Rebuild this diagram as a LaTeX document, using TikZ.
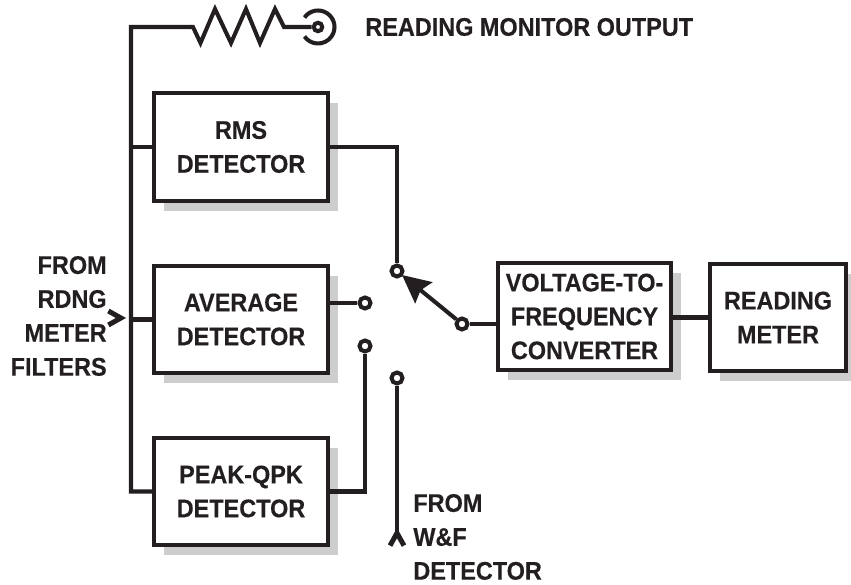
\documentclass[tikz,border=0pt]{standalone}
\usepackage{fontspec}
\setmainfont[FakeStretch=0.92,BoldFeatures={FakeBold=0.3}]{Liberation Sans}
\usetikzlibrary{arrows.meta,shadows}
\definecolor{inkblack}{HTML}{231F20}
\definecolor{shadowgray}{HTML}{CDCDCD}
\tikzset{
    every node/.style={text=inkblack, font=\fontsize{14.5}{19.3}\selectfont\bfseries},
    wire/.style={draw=inkblack, line width=2.3pt},
    box/.style={wire, fill=white, minimum height=2.15cm, minimum width=3.47cm,
                inner sep=0pt, align=center,
                drop shadow={shadow xshift=0.2cm, shadow yshift=-0.2cm,
                             fill=shadowgray, opacity=1}},
    contact/.style={circle, wire, fill=white, inner sep=0pt, minimum size=0.22cm},
    note/.style={align=left, inner sep=0pt},
    swing/.style={wire, -{Stealth[length=0.56cm, width=0.54cm, inset=0.08cm]}},
    entry/.style={wire, -{Straight Barb[length=0.25cm, width=0.28cm, line width=0.1cm]}},
}
\begin{document}
\begin{tikzpicture}
    \useasboundingbox (0,0) rectangle (17.02,11.7);

    % blocks
    \node[box] (rms) at (4.82,8.76) {RMS\\DETECTOR};
    \node[box] (avg) at (4.82,5.31) {AVERAGE\\DETECTOR};
    \node[box] (peak) at (4.82,1.87) {PEAK-QPK\\DETECTOR};
    \node[box] (vfc) at (11.69,5.37) {VOLTAGE-TO-\\FREQUENCY\\CONVERTER};
    \node[box, minimum width=2.71cm] (meter) at (15.56,5.35) {READING\\METER};

    % switch contacts
    \node[contact] (rmsc) at (7.94,6.28) {};
    \node[contact] (avgc) at (7.30,5.64) {};
    \node[contact] (peakc) at (7.30,4.78) {};
    \node[contact] (wfc) at (7.94,4.14) {};
    \node[contact] (common) at (9.24,5.22) {};
    \node[contact, minimum size=0.17cm] (jack) at (6.36,11.16) {};

    % labels
    \node[note, anchor=west] (monitor) at (7.30,11.16) {READING MONITOR OUTPUT};
    \node[note, align=right, anchor=east] (rdnglabel) at (2.14,5.38) {FROM\\RDNG\\METER\\FILTERS};
    \node[note, anchor=west] (wflabel) at (8.26,0.96) {FROM\\W\&F\\DETECTOR};

    \coordinate (bustop) at (2.62,11.16);
    \coordinate (rdng) at (2.34,5.34);
    \coordinate (rdngtip) at (2.52,5.34);
    \coordinate (wfend) at (7.94,0.96);
    \coordinate (wftip) at (7.94,1.14);
    \coordinate (swtip) at (8.04,6.20);

    % bus and resistor
    \draw[wire] (peak.west) -| (bustop) -- (3.86,11.16) -- (4.01,10.84) -- (4.30,11.52)
        -- (4.62,10.84) -- (4.92,11.52) -- (5.20,10.84) -- (5.50,11.52) -- (5.68,11.16) -- (jack);
    \draw[wire] (jack) ++(145:0.33) arc (145:-145:0.33);
    \draw[wire] (rms.west) -- (rms.west -| bustop);
    \draw[wire] (avg.west) -- (avg.west -| bustop);
    \draw[entry] (rdng) -- (rdngtip);

    % detector outputs
    \draw[wire] (rms.east) -| (rmsc);
    \draw[wire] (avgc) -- (avgc -| avg.east);
    \draw[wire] (peak.east) -| (peakc);
    \draw[wire] (wfc) -- (wfend);
    \draw[entry] (wfend) -- (wftip);
    \draw[swing] (common) -- (swtip);
    \draw[wire] (common) -- (common -| vfc.west);
    \draw[wire] (vfc.east |- meter.west) -- (meter.west);
\end{tikzpicture}
\end{document}
